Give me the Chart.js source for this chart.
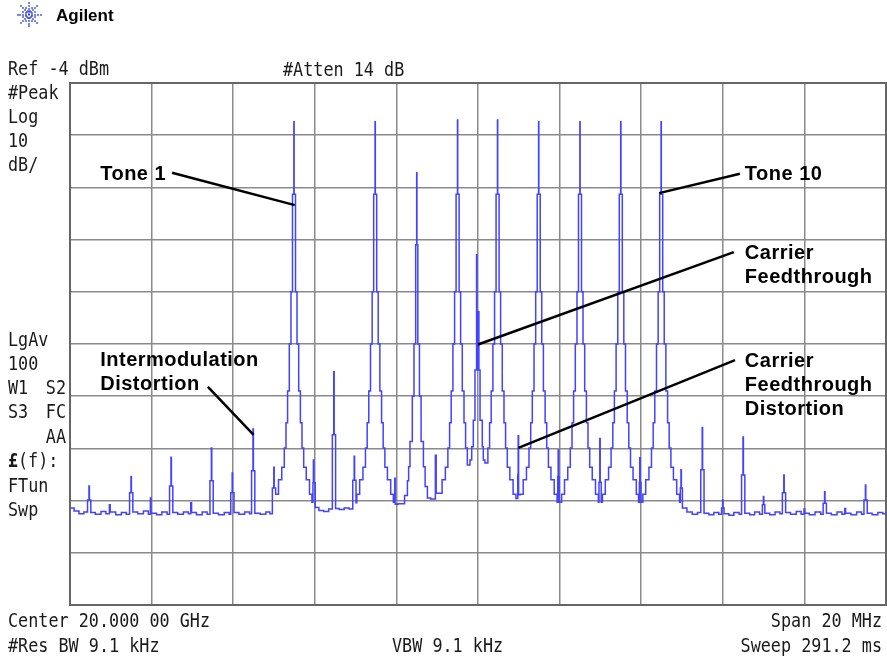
<!DOCTYPE html>
<html>
<head>
<meta charset="utf-8">
<title>Agilent spectrum - multitone</title>
<script src="https://cdn.jsdelivr.net/npm/chart.js@4.4.1/dist/chart.umd.min.js"></script>
<style>
  html, body { margin: 0; padding: 0; background: #fff; }
  #wrap { width: 887px; height: 661px; }
</style>
</head>
<body>
<div id="wrap"><canvas id="spectrum" width="887" height="661"></canvas></div>
<script>
// Frequency offsets from the 20 GHz centre in MHz, levels in dBm.
const xGrid = [-10, -8, -6, -4, -2, 0, 2, 4, 6, 8, 10];
const yGrid = [-104, -94, -84, -74, -64, -54, -44, -34, -24, -14, -4];

// noise floor and distortion spurs left of tone 1
const floorWest = [
    [-10.00, -85.4], [-9.90, -86.0], [-9.78, -86.5], [-9.66, -86.2],
    [-9.57, -83.9], [-9.535, -81.2], [-9.525, -83.9], [-9.49, -86.3],
    [-9.38, -86.6], [-9.24, -86.1], [-9.12, -86.5],
    [-9.035, -84.8], [-9.015, -86.2],
    [-8.88, -86.7], [-8.74, -86.3], [-8.62, -86.6],
    [-8.54, -82.5], [-8.505, -79.4], [-8.495, -82.5], [-8.46, -86.2],
    [-8.34, -86.5], [-8.20, -86.0], [-8.08, -86.6],
    [-8.03, -83.5], [-8.015, -86.4],
    [-7.88, -86.7], [-7.75, -86.2], [-7.62, -86.6],
    [-7.56, -81.2], [-7.525, -75.7], [-7.515, -81.2], [-7.48, -86.3],
    [-7.36, -86.6], [-7.22, -86.2], [-7.10, -86.5],
    [-7.04, -84.4], [-7.02, -86.3],
    [-6.90, -86.7], [-6.76, -86.2], [-6.64, -86.6],
    [-6.57, -80.2], [-6.535, -73.9], [-6.525, -80.2], [-6.49, -86.4],
    [-6.36, -86.7], [-6.22, -86.3], [-6.10, -86.6],
    [-6.06, -82.5], [-6.025, -78.7], [-6.015, -82.5], [-5.98, -86.3],
    [-5.86, -86.6], [-5.72, -86.2], [-5.60, -86.5],
    [-5.55, -78.3], [-5.515, -70.3], [-5.505, -78.3], [-5.47, -86.4],
    [-5.34, -86.6], [-5.20, -86.2], [-5.10, -86.5],
    [-5.04, -81.6], [-5.005, -77.6], [-4.995, -81.6]
];

// the tones, carrier feedthrough and the spurs between them
const toneBand = [
    // tone 1
    [-4.96, -82.8], [-4.89, -80.0], [-4.81, -77.6], [-4.748, -73.9], [-4.706, -69.1],
    [-4.667, -63.0], [-4.625, -54.0], [-4.584, -44.0], [-4.547, -25.3], [-4.513, -11.4],
    [-4.507, -25.3], [-4.473, -44.0], [-4.436, -54.0], [-4.395, -63.0], [-4.353, -69.1],
    [-4.314, -73.9], [-4.272, -77.6], [-4.21, -80.0], [-4.13, -82.8], [-4.07, -84.3],
    [-4.045, -80.6], [-4.035, -76.2], [-4.025, -80.6], [-3.99, -85.3],
    [-3.90, -85.9], [-3.78, -86.1], [-3.66, -85.6],
    [-3.57, -71.4], [-3.535, -59.3], [-3.525, -71.4], [-3.49, -85.5],
    [-3.40, -85.7], [-3.28, -85.4], [-3.16, -85.6],
    [-3.07, -80.1], [-3.035, -75.5], [-3.025, -80.1], [-2.99, -84.4],
    // tone at -2.5 MHz
    [-2.97, -82.8], [-2.90, -80.0], [-2.82, -77.6], [-2.758, -73.9], [-2.716, -69.1],
    [-2.677, -63.0], [-2.635, -54.0], [-2.594, -44.0], [-2.557, -25.3], [-2.523, -11.4],
    [-2.517, -25.3], [-2.483, -44.0], [-2.446, -54.0], [-2.405, -63.0], [-2.363, -69.1],
    [-2.324, -73.9], [-2.282, -77.6], [-2.22, -80.0], [-2.14, -82.8], [-2.075, -84.3],
    [-2.04, -79.7], [-2.03, -84.7], [-1.96, -84.6],
    // weaker tone at -1.5 MHz
    [-1.80, -83.0], [-1.73, -80.2], [-1.70, -77.5], [-1.667, -72.7], [-1.61, -64.0],
    [-1.569, -54.0], [-1.527, -35.0], [-1.503, -21.2], [-1.497, -35.0], [-1.475, -54.0],
    [-1.435, -64.0], [-1.395, -72.7], [-1.338, -77.5], [-1.296, -81.3], [-1.24, -83.5],
    [-1.16, -83.7], [-1.045, -75.3], [-1.025, -82.6],
    // tone at -0.5 MHz
    [-0.88, -80.0], [-0.80, -77.6], [-0.738, -73.9], [-0.696, -69.1], [-0.657, -63.0],
    [-0.615, -54.0], [-0.574, -44.0], [-0.537, -25.3], [-0.503, -11.1], [-0.497, -25.3],
    [-0.463, -44.0], [-0.426, -54.0], [-0.385, -63.0], [-0.343, -69.1], [-0.304, -73.9],
    [-0.262, -77.2],
    // carrier feedthrough
    [-0.196, -76.2], [-0.154, -73.7], [-0.115, -68.6], [-0.074, -59.0], [-0.035, -36.9],
    [-0.028, -59.0], [0.0, -47.8], [0.022, -59.0], [0.05, -68.6], [0.105, -73.7],
    [0.13, -76.2], [0.17, -76.8],
    // tone at +0.5 MHz
    [0.242, -73.9], [0.284, -69.1], [0.323, -63.0], [0.365, -54.0], [0.406, -44.0],
    [0.443, -25.3], [0.477, -11.1], [0.483, -25.3], [0.517, -44.0], [0.554, -54.0],
    [0.595, -63.0], [0.637, -69.1], [0.676, -73.9], [0.718, -77.6], [0.78, -80.0],
    [0.86, -82.8], [0.93, -83.6],
    [0.975, -79.0], [0.985, -71.6], [0.995, -82.9],
    // tone at +1.5 MHz
    [1.038, -82.8], [1.108, -80.0], [1.188, -77.6], [1.25, -73.9], [1.292, -69.1],
    [1.331, -63.0], [1.373, -54.0], [1.414, -44.0], [1.451, -25.3], [1.485, -11.4],
    [1.491, -25.3], [1.525, -44.0], [1.562, -54.0], [1.603, -63.0], [1.645, -69.1],
    [1.684, -73.9], [1.726, -77.6], [1.788, -80.0], [1.868, -82.8], [1.938, -84.3],
    [1.955, -79.4], [1.965, -74.3], [1.975, -79.4], [1.99, -84.3],
    // tone at +2.5 MHz
    [2.05, -82.8], [2.12, -80.0], [2.20, -77.6], [2.262, -73.9], [2.304, -69.1],
    [2.343, -63.0], [2.385, -54.0], [2.426, -44.0], [2.463, -25.3], [2.497, -11.4],
    [2.503, -25.3], [2.537, -44.0], [2.574, -54.0], [2.615, -63.0], [2.657, -69.1],
    [2.696, -73.9], [2.738, -77.6], [2.80, -80.0], [2.88, -82.8], [2.95, -84.3],
    [2.965, -80.5], [2.985, -72.1], [2.995, -80.5], [3.02, -84.3],
    // tone at +3.5 MHz
    [3.05, -82.8], [3.12, -80.0], [3.20, -77.6], [3.262, -73.9], [3.304, -69.1],
    [3.343, -63.0], [3.385, -54.0], [3.426, -44.0], [3.463, -25.3], [3.497, -11.4],
    [3.503, -25.3], [3.537, -44.0], [3.574, -54.0], [3.615, -63.0], [3.657, -69.1],
    [3.696, -73.9], [3.738, -77.6], [3.80, -80.0], [3.88, -82.8], [3.935, -84.3],
    [3.955, -80.5], [3.965, -75.8], [3.975, -80.5], [3.995, -84.3],
    // tone 10
    [4.04, -82.8], [4.11, -80.0], [4.19, -77.6], [4.252, -73.9], [4.294, -69.1],
    [4.333, -63.0], [4.375, -54.0], [4.416, -44.0], [4.453, -25.3], [4.487, -11.4],
    [4.493, -25.3], [4.527, -44.0], [4.564, -54.0], [4.605, -63.0], [4.647, -69.1],
    [4.686, -73.9], [4.728, -77.6], [4.79, -80.0], [4.87, -82.8], [4.94, -84.3],
    [4.96, -81.6], [4.975, -78.1], [4.985, -81.6]
];

// noise floor and spurs right of tone 10
const floorEast = [
    [5.01, -85.4], [5.12, -86.2], [5.25, -86.6], [5.38, -86.3],
    [5.46, -78.1], [5.495, -70.0], [5.505, -78.1], [5.54, -86.4],
    [5.66, -86.7], [5.78, -86.3], [5.90, -86.6],
    [5.97, -85.4], [5.995, -83.9], [6.005, -85.4], [6.03, -86.5],
    [6.15, -86.8], [6.27, -86.3], [6.40, -86.6],
    [6.46, -79.1], [6.495, -71.8], [6.505, -79.1], [6.54, -86.4],
    [6.66, -86.7], [6.78, -86.2], [6.90, -86.6],
    [6.97, -84.8], [6.995, -83.2], [7.005, -84.8], [7.03, -86.4],
    [7.15, -86.7], [7.28, -86.2], [7.40, -86.5],
    [7.46, -82.5], [7.495, -79.1], [7.505, -82.5], [7.54, -86.3],
    [7.66, -86.6], [7.80, -86.1], [7.92, -86.6],
    [7.99, -85.6], [8.01, -86.4],
    [8.12, -86.7], [8.26, -86.2], [8.40, -86.6],
    [8.46, -84.5], [8.495, -82.3], [8.505, -84.5], [8.54, -86.4],
    [8.66, -86.7], [8.80, -86.2], [8.92, -86.6],
    [8.99, -85.5], [9.01, -86.4],
    [9.14, -86.7], [9.28, -86.2], [9.40, -86.6],
    [9.46, -83.9], [9.495, -81.0], [9.505, -83.9], [9.54, -86.4],
    [9.66, -86.7], [9.80, -86.3], [9.92, -86.5], [10.00, -86.2]
];

// callouts: text anchor and leader line in (MHz, dBm)
const callouts = [
    { lines: ['Tone 1'], at: [-9.26, -22.6], from: [-7.50, -21.2], to: [-4.49, -27.4] },
    { lines: ['Tone 10'], at: [6.54, -22.6], from: [6.42, -21.4], to: [4.44, -25.1] },
    { lines: ['Carrier', 'Feedthrough'], at: [6.54, -37.7], from: [6.27, -36.4], to: [0.0, -54.1] },
    { lines: ['Carrier', 'Feedthrough', 'Distortion'], at: [6.54, -58.4], from: [6.30, -57.1], to: [0.99, -73.9] },
    { lines: ['Intermodulation', 'Distortion'], at: [-9.26, -58.3], from: [-6.62, -62.2], to: [-5.50, -71.4] }
];

const TRACE_BLUE = '#4242ff';
const GRID_GREY = '#8a8a8a';
const MONO = '16.8px "DejaVu Sans Mono"';
const LABEL_FONT = 'bold 20px "Liberation Sans", Arial, sans-serif';

function monoText(ctx, text, x, y, align) {
    ctx.save();
    ctx.font = MONO;
    ctx.fillStyle = '#1a1a1a';
    ctx.textAlign = align || 'left';
    ctx.textBaseline = 'alphabetic';
    ctx.translate(x, y);
    ctx.scale(1, 1.16);
    ctx.fillText(text, 0, 0);
    ctx.restore();
}

function drawLogo(ctx) {
    const cx = 29, cy = 14.5;
    ctx.save();
    ctx.fillStyle = '#3344dd';
    for (let i = 0; i < 16; i++) {
        const a = i * Math.PI / 8;
        const long = i % 2 === 0;
        const steps = long ? [3, 6, 9, 11.5] : [3.5, 7];
        steps.forEach(r => {
            ctx.fillRect(Math.round(cx + r * Math.cos(a)) - 0.8, Math.round(cy + r * Math.sin(a)) - 0.8, 1.6, 1.6);
        });
    }
    ctx.fillRect(cx - 1, cy - 1, 2, 2);
    ctx.font = 'bold 17px "Liberation Sans", Arial, sans-serif';
    ctx.fillStyle = '#000';
    ctx.textBaseline = 'alphabetic';
    ctx.fillText('Agilent', 56, 21);
    ctx.restore();
}

const framePlugin = {
    id: 'frame',
    beforeDatasetsDraw(chart) {
        const { ctx, chartArea: a } = chart;
        ctx.save();
        ctx.strokeStyle = '#666';
        ctx.lineWidth = 2;
        ctx.strokeRect(a.left, a.top, a.right - a.left, a.bottom - a.top);
        ctx.restore();
    }
};

const calloutPlugin = {
    id: 'callouts',
    afterDatasetsDraw(chart) {
        const { ctx } = chart;
        const xs = chart.scales.x, ys = chart.scales.y;
        ctx.save();
        ctx.strokeStyle = '#000';
        ctx.lineWidth = 2.5;
        ctx.lineCap = 'butt';
        ctx.fillStyle = '#000';
        ctx.font = LABEL_FONT;
        ctx.letterSpacing = '0.5px';
        ctx.textBaseline = 'alphabetic';
        callouts.forEach(c => {
            ctx.beginPath();
            ctx.moveTo(xs.getPixelForValue(c.from[0]), ys.getPixelForValue(c.from[1]));
            ctx.lineTo(xs.getPixelForValue(c.to[0]), ys.getPixelForValue(c.to[1]));
            ctx.stroke();
            const tx = xs.getPixelForValue(c.at[0]);
            const ty = ys.getPixelForValue(c.at[1]);
            c.lines.forEach((line, i) => ctx.fillText(line, tx, ty + i * 24));
        });
        ctx.restore();
    }
};

const screenTextPlugin = {
    id: 'screenText',
    afterDraw(chart) {
        const { ctx } = chart;
        drawLogo(ctx);
        monoText(ctx, 'Ref -4 dBm', 8, 75);
        monoText(ctx, '#Atten 14 dB', 283, 76);
        monoText(ctx, '#Peak', 8, 98.5);
        monoText(ctx, 'Log', 8, 122.5);
        monoText(ctx, '10', 8, 146.5);
        monoText(ctx, 'dB/', 8, 170.5);
        monoText(ctx, 'LgAv', 8, 346);
        monoText(ctx, '100', 8, 370);
        monoText(ctx, 'W1', 8, 394);
        monoText(ctx, 'S2', 66, 394, 'right');
        monoText(ctx, 'S3', 8, 418);
        monoText(ctx, 'FC', 66, 418, 'right');
        monoText(ctx, 'AA', 66, 443, 'right');
        ctx.save();
        ctx.font = 'bold ' + MONO;
        ctx.fillStyle = '#1a1a1a';
        ctx.translate(8, 467);
        ctx.scale(1, 1.16);
        ctx.fillText('\u00a3', 0, 0);
        ctx.restore();
        monoText(ctx, '(f):', 18, 467);
        monoText(ctx, 'FTun', 8, 492);
        monoText(ctx, 'Swp', 8, 516);
        monoText(ctx, 'Center 20.000 00 GHz', 8, 627);
        monoText(ctx, 'Span 20 MHz', 882, 627, 'right');
        monoText(ctx, '#Res BW 9.1 kHz', 8, 652);
        monoText(ctx, 'VBW 9.1 kHz', 392, 652);
        monoText(ctx, 'Sweep 291.2 ms', 882, 652, 'right');
    }
};

const tracePoints = [...floorWest, ...toneBand, ...floorEast].map(([x, y]) => ({ x, y }));

new Chart(document.getElementById('spectrum'), {
    type: 'line',
    data: {
        datasets: [{
            data: tracePoints,
            borderColor: TRACE_BLUE,
            borderWidth: 1.5,
            pointRadius: 0,
            stepped: true,
            tension: 0,
            fill: false
        }]
    },
    options: {
        responsive: false,
        devicePixelRatio: 1,
        animation: false,
        events: [],
        parsing: false,
        layout: { padding: { left: 70, right: 1, top: 83, bottom: 56 } },
        plugins: {
            legend: { display: false },
            tooltip: { enabled: false }
        },
        scales: {
            x: {
                type: 'linear',
                min: -10,
                max: 10,
                afterBuildTicks: axis => { axis.ticks = xGrid.map(v => ({ value: v })); },
                ticks: { display: false },
                grid: { color: GRID_GREY, lineWidth: 1.5, drawTicks: false },
                border: { display: false }
            },
            y: {
                type: 'linear',
                min: -104,
                max: -4,
                afterBuildTicks: axis => { axis.ticks = yGrid.map(v => ({ value: v })); },
                ticks: { display: false },
                grid: { color: GRID_GREY, lineWidth: 1.5, drawTicks: false },
                border: { display: false }
            }
        }
    },
    plugins: [framePlugin, calloutPlugin, screenTextPlugin]
});
</script>
</body>
</html>
